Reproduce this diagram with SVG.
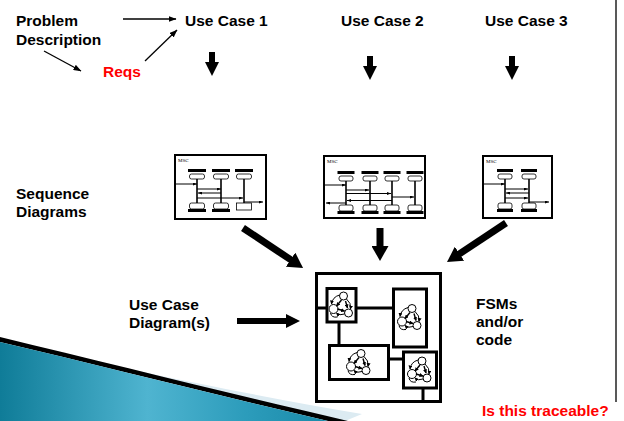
<svg xmlns="http://www.w3.org/2000/svg" width="624" height="421" viewBox="0 0 624 421">
<style>
.t{font-family:"Liberation Sans",Arial,sans-serif;font-weight:bold;font-size:15.5px;fill:#000}
.red{fill:#ff0000}
.msc{font-family:"Liberation Serif","Times New Roman",serif;font-size:5px;fill:#000}
.box{fill:#fff;stroke:#000;stroke-width:2}
.fbox{fill:#fff;stroke:#000;stroke-width:3}
.wire{stroke:#000;stroke-width:3;fill:none}
.bar{fill:#000}
.head{fill:#fff;stroke:#000;stroke-width:0.8}
.life{stroke:#000;stroke-width:1.6}
.msg{stroke:#000;stroke-width:1;marker-end:url(#mMsg)}
.thin{stroke:#000;stroke-width:1.3;fill:none;marker-end:url(#mThin)}
.thick{stroke:#000;stroke-width:6;fill:none;marker-end:url(#mHead)}
.big{stroke:#000;stroke-width:7;fill:none;marker-end:url(#mBig)}
</style>
<defs>
<marker id="mThin" viewBox="0 0 8 6" refX="7.5" refY="3" markerWidth="8" markerHeight="6" markerUnits="userSpaceOnUse" orient="auto"><path d="M0,0 L8,3 L0,6 Z" fill="#000"/></marker>
<marker id="mMsg" viewBox="0 0 4 3" refX="4" refY="1.5" markerWidth="4" markerHeight="3" markerUnits="userSpaceOnUse" orient="auto"><path d="M0,0 L4,1.5 L0,3 Z" fill="#000"/></marker>
<marker id="mHead" viewBox="0 0 14 14" refX="1" refY="7" markerWidth="14" markerHeight="14" markerUnits="userSpaceOnUse" orient="auto"><path d="M0,0 L14,7 L0,14 Z" fill="#000"/></marker>
<marker id="mBig" viewBox="0 0 15 17" refX="1" refY="8.5" markerWidth="15" markerHeight="17" markerUnits="userSpaceOnUse" orient="auto"><path d="M0,0 L15,8.5 L0,17 Z" fill="#000"/></marker>
<marker id="mTiny" viewBox="0 0 4 4" refX="3.5" refY="2" markerWidth="4" markerHeight="4" markerUnits="userSpaceOnUse" orient="auto"><path d="M0,0 L4,2 L0,4 Z" fill="#000"/></marker>
<symbol id="fsm" viewBox="0 0 26 28">
<g fill="none" stroke="#000" stroke-width="1">
<circle cx="15" cy="5" r="4" fill="#fff"/>
<circle cx="5" cy="18" r="4.5" fill="#fff"/>
<circle cx="20" cy="22" r="4" fill="#fff"/>
<path d="M11,4 Q4,6 3,13" marker-end="url(#mTiny)"/>
<path d="M18,8 Q23,12 22,18" marker-end="url(#mTiny)"/>
<path d="M16,23 Q11,25 8,22" marker-end="url(#mTiny)"/>
<path d="M13,9 L8,15" marker-end="url(#mTiny)" stroke-width="1.4"/>
<path d="M9,18 L16,20" marker-end="url(#mTiny)" stroke-width="1.4"/>
<path d="M17,10 L19,17" marker-end="url(#mTiny)" stroke-width="1.4"/>
<path d="M2,22 Q3,27 9,26"/>
</g>
</symbol>
<linearGradient id="blue" x1="0" y1="0" x2="1" y2="0">
<stop offset="0" stop-color="#0f7c98"/>
<stop offset="0.45" stop-color="#4fb4d0"/>
<stop offset="0.75" stop-color="#2c9cbb"/>
<stop offset="1" stop-color="#1a8aa9"/>
</linearGradient>
</defs>
<rect width="624" height="421" fill="#fff"/>

<g id="swoosh">
<path d="M40,350 C150,374 260,397 362,414 L345,421 C240,398 130,373 20,350 Z" fill="#dcebf2"/>
<path d="M0,337 C120,366 240,396 348,421 L328,421 C220,396 110,368 0,342 Z" fill="#000"/>
<path d="M0,342 C110,368 220,396 328,421 L0,421 Z" fill="url(#blue)"/>
</g>

<line x1="616" y1="0" x2="616" y2="402" stroke="#222" stroke-width="1.5"/>

<g id="problem-description"><text class="t" x="16" y="26">Problem</text><text class="t" x="16" y="45">Description</text></g>
<g id="reqs"><text class="t red" x="103" y="77">Reqs</text></g>
<g id="use-case-1"><text class="t" x="185" y="26">Use Case 1</text></g>
<g id="use-case-2"><text class="t" x="341" y="26">Use Case 2</text></g>
<g id="use-case-3"><text class="t" x="485" y="26">Use Case 3</text></g>
<g id="sequence-diagrams-label"><text class="t" x="16" y="199">Sequence</text><text class="t" x="16" y="217">Diagrams</text></g>
<g id="use-case-diagrams"><text class="t" x="129" y="310">Use Case</text><text class="t" x="129" y="328">Diagram(s)</text></g>
<g id="fsms-label"><text class="t" x="476" y="309">FSMs</text><text class="t" x="476" y="327">and/or</text><text class="t" x="476" y="345">code</text></g>
<g id="traceable"><text class="t red" x="482" y="416">Is this traceable?</text></g>

<g id="msc-1">
<rect class="box" x="175" y="155" width="91" height="64"/>
<text class="msc" x="178" y="162">MSC</text>
<rect class="bar" x="188" y="169" width="18" height="3"/><rect class="head" x="189.5" y="174" width="15" height="5" rx="2"/>
<rect class="bar" x="212" y="169" width="18" height="3"/><rect class="head" x="213.5" y="174" width="15" height="5" rx="2"/>
<rect class="bar" x="235" y="169" width="18" height="3"/><rect class="head" x="236.5" y="174" width="15" height="5" rx="2"/>
<line class="life" x1="197" y1="179" x2="197" y2="203"/><line class="life" x1="221" y1="179" x2="221" y2="203"/><line class="life" x1="244" y1="179" x2="244" y2="203"/>
<line class="msg" x1="176" y1="184" x2="197" y2="184"/>
<line class="msg" x1="197" y1="189" x2="221" y2="189"/>
<line class="msg" x1="221" y1="193" x2="198" y2="193"/>
<line class="msg" x1="197" y1="198" x2="243" y2="198"/>
<line class="msg" x1="244" y1="202" x2="263" y2="202"/>
<rect class="head" x="189.5" y="203" width="15" height="6" rx="2"/><rect class="bar" x="188" y="209" width="18" height="3"/>
<rect class="head" x="213.5" y="203" width="15" height="6" rx="2"/><rect class="bar" x="212" y="209" width="18" height="3"/>
<rect class="head" x="236.5" y="203" width="15" height="7" stroke-width="1.5"/>
</g>

<g id="msc-2">
<rect class="box" x="324" y="156" width="101" height="62"/>
<text class="msc" x="327" y="163">MSC</text>
<rect class="bar" x="337.5" y="171" width="17" height="3"/><rect class="head" x="339" y="176" width="14" height="5" rx="2"/>
<rect class="bar" x="361.5" y="171" width="17" height="3"/><rect class="head" x="363" y="176" width="14" height="5" rx="2"/>
<rect class="bar" x="383.5" y="171" width="17" height="3"/><rect class="head" x="385" y="176" width="14" height="5" rx="2"/>
<rect class="bar" x="406.5" y="171" width="17" height="3"/><rect class="head" x="408" y="176" width="14" height="5" rx="2"/>
<line class="life" x1="346" y1="181" x2="346" y2="205"/><line class="life" x1="370" y1="181" x2="370" y2="205"/><line class="life" x1="392" y1="181" x2="392" y2="205"/><line class="life" x1="415" y1="181" x2="415" y2="205"/>
<line class="msg" x1="325" y1="185" x2="346" y2="185"/>
<line class="msg" x1="346" y1="190" x2="369" y2="190"/>
<line class="msg" x1="346" y1="193.5" x2="391" y2="193.5"/>
<line class="msg" x1="392" y1="197" x2="414" y2="197"/>
<line class="msg" x1="392" y1="200.5" x2="347" y2="200.5"/>
<line class="msg" x1="346" y1="203" x2="326" y2="203"/>
<rect class="head" x="339" y="205" width="14" height="6" rx="2"/><rect class="bar" x="337.5" y="211" width="17" height="3"/>
<rect class="head" x="363" y="205" width="14" height="6" rx="2"/><rect class="bar" x="361.5" y="211" width="17" height="3"/>
<rect class="head" x="385" y="205" width="14" height="6" rx="2"/><rect class="bar" x="383.5" y="211" width="17" height="3"/>
<rect class="head" x="408" y="205" width="14" height="6" rx="2"/><rect class="bar" x="406.5" y="211" width="17" height="3"/>
</g>

<g id="msc-3">
<rect class="box" x="483" y="156" width="69" height="62"/>
<text class="msc" x="486" y="163">MSC</text>
<rect class="bar" x="497" y="169" width="16" height="3"/><rect class="head" x="498" y="174" width="14" height="5" rx="2"/>
<rect class="bar" x="521" y="169" width="16" height="3"/><rect class="head" x="522" y="174" width="14" height="5" rx="2"/>
<line class="life" x1="505" y1="179" x2="505" y2="203"/><line class="life" x1="529" y1="179" x2="529" y2="203"/>
<line class="msg" x1="484" y1="184" x2="505" y2="184"/>
<line class="msg" x1="505" y1="189" x2="528" y2="189"/>
<line class="msg" x1="529" y1="193" x2="506" y2="193"/>
<line class="msg" x1="505" y1="198" x2="528" y2="198"/>
<line class="msg" x1="529" y1="202" x2="549" y2="202"/>
<rect class="head" x="498" y="203" width="14" height="6" rx="2"/><rect class="bar" x="497" y="209" width="16" height="3"/>
<rect class="head" x="522" y="203" width="14" height="6" rx="2"/><rect class="bar" x="521" y="209" width="16" height="3"/>
</g>

<g id="fsm-system">
<rect class="fbox" x="316.5" y="273.5" width="124" height="128"/>
<line class="wire" x1="316" y1="308" x2="327" y2="308"/>
<line class="wire" x1="356" y1="308" x2="393" y2="308"/>
<line class="wire" x1="339" y1="322" x2="339" y2="345"/>
<line class="wire" x1="389" y1="359" x2="403" y2="359"/>
<line class="wire" x1="423" y1="388" x2="423" y2="402"/>
<g id="fsm-a"><rect class="fbox" x="327" y="288.5" width="29" height="33.5"/><use href="#fsm" x="328.5" y="291" width="26" height="28"/></g>
<g id="fsm-b"><rect class="fbox" x="393.5" y="289" width="33" height="58"/><use href="#fsm" x="397" y="303.5" width="26" height="28"/></g>
<g id="fsm-c"><rect class="fbox" x="329.5" y="345.5" width="59" height="34"/><use href="#fsm" x="346" y="348.5" width="26" height="28"/></g>
<g id="fsm-d"><rect class="fbox" x="403.5" y="352" width="33" height="36"/><use href="#fsm" x="407" y="356" width="26" height="28"/></g>
</g>

<g id="connectors">
<line class="thin" x1="123" y1="19" x2="176" y2="19"/>
<line class="thin" x1="44" y1="51" x2="81" y2="71"/>
<line class="thin" x1="145" y1="61" x2="177" y2="30"/>
<line class="thick" x1="212" y1="52" x2="212" y2="63"/>
<line class="thick" x1="370" y1="56" x2="370" y2="67"/>
<line class="thick" x1="512" y1="56" x2="512" y2="67"/>
<line class="big" x1="243" y1="228" x2="291.4" y2="260.2"/>
<line class="big" x1="380" y1="228" x2="380" y2="247"/>
<line class="big" x1="506" y1="223" x2="458.7" y2="254.3"/>
<line class="thick" x1="237" y1="321" x2="287" y2="321" stroke-width="5"/>
</g>
</svg>
